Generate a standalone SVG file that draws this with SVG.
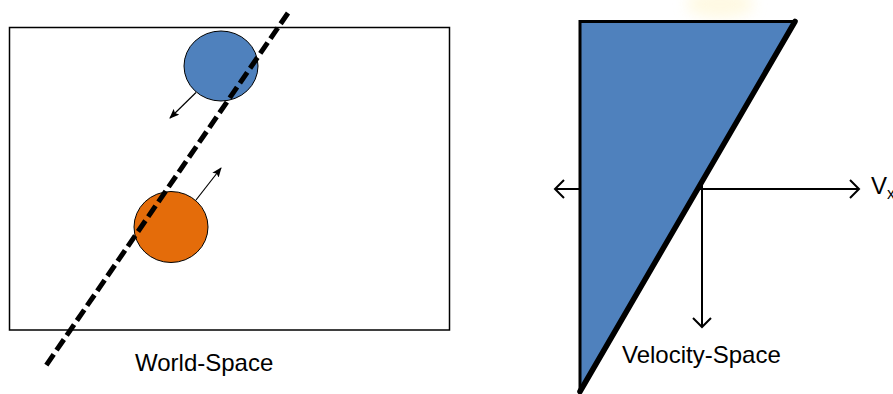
<svg xmlns="http://www.w3.org/2000/svg" width="893" height="394" viewBox="0 0 893 394">
<style>
text{font-family:"Liberation Sans",Arial,sans-serif;fill:#000}
.lbl{font-size:24px}
.ax{stroke:#000;stroke-width:2;fill:none}
.sm{stroke:#000;stroke-width:1.2;fill:none}
</style>
<defs>
<marker id="open" viewBox="0 0 12 20" refX="10" refY="10" markerWidth="12" markerHeight="20" markerUnits="userSpaceOnUse" orient="auto">
<path d="M1,1 L10,10 L1,19" fill="none" stroke="#000" stroke-width="2"/>
</marker>
<marker id="tri" viewBox="0 0 10 8" refX="9" refY="4" markerWidth="10" markerHeight="8" markerUnits="userSpaceOnUse" orient="auto">
<path d="M0,0 L10,4 L0,8 L2,4 Z" fill="#000"/>
</marker>
<filter id="blur" x="-50%" y="-50%" width="200%" height="200%"><feGaussianBlur stdDeviation="7"/></filter>
</defs>
<rect width="893" height="394" fill="#fff"/>
<g id="world-frame">
<rect x="9.5" y="27.5" width="440" height="302.5" fill="none" stroke="#000" stroke-width="1.5"/>
</g>
<g id="blue-ball">
<ellipse cx="221" cy="66" rx="37" ry="35" fill="#4F81BD" stroke="#000" stroke-width="1"/>
</g>
<g id="orange-ball">
<ellipse cx="171" cy="227" rx="37" ry="35.5" fill="#E46C0A" stroke="#000" stroke-width="1"/>
</g>
<g id="connectors">
<line class="sm" x1="196" y1="92.5" x2="170" y2="118" marker-end="url(#tri)"/>
<line class="sm" x1="196" y1="200" x2="221" y2="168" marker-end="url(#tri)"/>
<line x1="288" y1="13" x2="45" y2="367" stroke="#000" stroke-width="5" stroke-dasharray="13,5"/>
</g>
<text class="lbl" x="135" y="371">World-Space</text>
<g id="glow">
<ellipse cx="720" cy="4" rx="34" ry="14" fill="#FFF6D0" opacity="0.6" filter="url(#blur)"/>
</g>
<g id="axes">
<line class="ax" x1="555" y1="189" x2="859" y2="189" marker-end="url(#open)"/>
<line class="ax" x1="702" y1="189" x2="555" y2="189" marker-end="url(#open)"/>
<line class="ax" x1="702" y1="22" x2="702" y2="327" marker-end="url(#open)"/>
</g>
<g id="velocity-region">
<polygon points="580,21.5 795,21.5 580,391.5" fill="#4F81BD" stroke="#000" stroke-width="3" stroke-linejoin="miter"/>
<line x1="795" y1="21.5" x2="580" y2="391.5" stroke="#000" stroke-width="5.5" stroke-linecap="round"/>
</g>
<text class="lbl" x="871" y="194">V<tspan font-size="16" dy="5">x</tspan></text>
<text class="lbl" x="622" y="363">Velocity-Space</text>
</svg>
